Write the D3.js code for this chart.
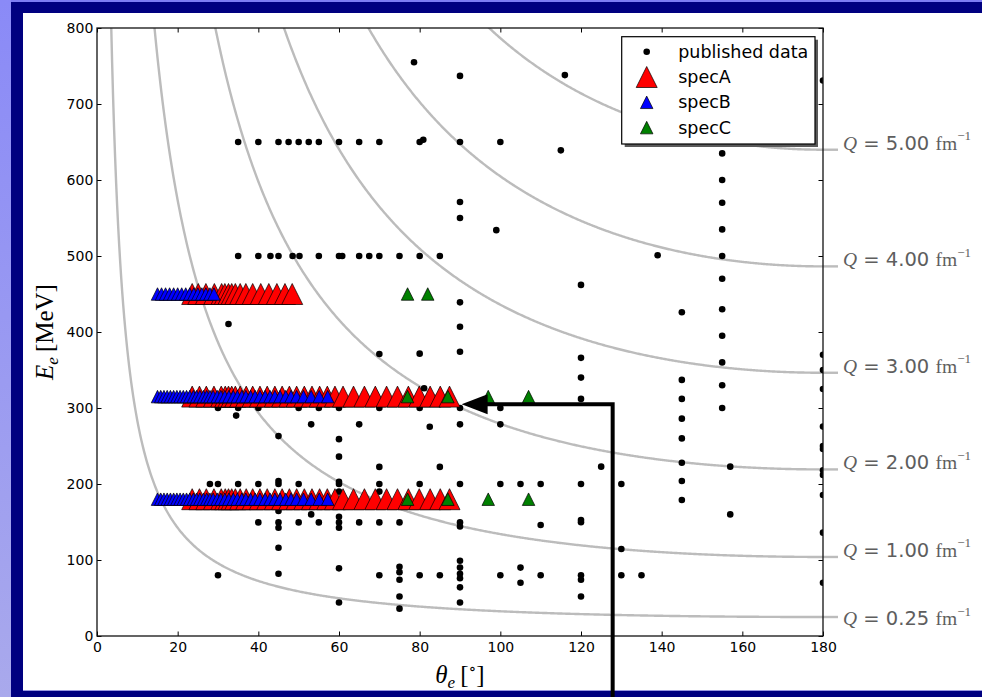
<!DOCTYPE html>
<html>
<head>
<meta charset="utf-8">
<script src="https://cdn.jsdelivr.net/npm/d3@7"></script>
<style>
  html, body { margin: 0; padding: 0; background: #ffffff; }
  svg { display: block; }
</style>
</head>
<body>
<svg id="chart" width="982" height="697"></svg>
<script>
// ---- data -------------------------------------------------------------
// world data: [theta (deg), beam energy (MeV)]
const publishedData = [
  [78.6, 755], [90, 737], [116, 738], [180, 731],
  [35, 650], [40, 650], [45, 650], [47.5, 650], [50, 650], [52.5, 650], [55, 650],
  [60, 650], [65, 650], [70, 650], [80, 650], [80.9, 653], [90, 650], [100, 650],
  [115, 639], [155, 635],
  [90, 571], [90, 550], [99, 534],
  [155, 600], [155, 570], [155, 535], [155, 500], [155, 470], [155, 430],
  [155, 395], [155, 360], [155, 330], [155, 300],
  [139, 501],
  [35, 500], [40, 500], [43, 500], [45, 500], [48.5, 500], [50.2, 500], [55, 500],
  [60, 500], [60.8, 500], [65, 500], [67.5, 500], [70, 500], [75, 500], [80, 500], [85, 500],
  [120, 462], [145, 426], [32.6, 410.5],
  [90, 439], [90, 407], [90, 374], [70, 371], [80, 371.5],
  [120, 366], [120, 340], [120, 312],
  [145, 337], [145, 312], [145, 286], [145, 260], [145, 228], [145, 204], [145, 179],
  [81.1, 326],
  [30, 300], [35, 300], [40, 300], [50, 300], [55, 300], [60, 300], [70, 300],
  [80, 300], [90, 300], [100, 300],
  [34.5, 290],
  [53.1, 278.5], [65, 278.5], [82.5, 275.4], [90, 278.5], [100, 278.5],
  [45, 263], [60, 259], [60, 236],
  [70, 222.5], [85, 222.5], [125, 222.8], [157, 222.8],
  [28, 200], [30, 200], [35, 200], [40, 200], [45, 200], [45, 204], [50, 200],
  [60, 200], [60, 203], [70, 200], [80, 200], [90, 200], [100, 200], [105, 200],
  [110, 200], [120, 200], [130, 200],
  [60, 190], [70, 190],
  [45, 164.5], [53.1, 160], [60, 157], [157, 160],
  [40, 149.5], [45, 149.5], [50, 149.5], [55, 149.5], [60, 149.5], [65, 149.5],
  [70, 149.5], [75, 149.5], [90, 149.5], [45, 142.5], [60, 142.5], [90, 144],
  [110, 146], [120, 152.7], [120, 149.6],
  [45, 116.2], [130, 114.5],
  [30, 80], [45, 82], [60, 89], [70, 80], [75, 91], [75, 84], [75, 74], [80, 80], [85, 80],
  [90, 99], [90, 90], [90, 82], [90, 76], [90, 64],
  [100, 80], [105, 90], [105, 70], [110, 80], [120, 80], [120, 74], [120, 52],
  [130, 80], [135, 80],
  [60, 44], [75, 52], [75, 36], [90, 44],
  [180, 370], [180, 350], [180, 325], [180, 275.5], [180, 250], [180, 246],
  [180, 218], [180, 212], [180, 185.6], [180, 136], [180, 70]
];

// planned kinematics: beam energies and spectrometer angles
const beamEnergies = [180, 315, 450];
const specAAngles = [23.6, 25.4, 27.1, 29.0, 30.8, 31.8, 32.6, 33.4, 34.3, 35.5, 37.0,
  38.6, 40.4, 42.2, 44.1, 45.9, 47.7, 49.5, 51.4, 53.3, 55.2, 57.1, 59.0, 61.0, 63.6,
  66.3, 69.0, 71.8, 74.5, 77.2, 79.9, 82.6, 85.1, 87.4];
const specAAngles450 = [23.6, 25.1, 27.0, 29.1, 30.9, 31.7, 32.6, 33.4, 34.3, 35.5,
  36.9, 38.6, 40.6, 42.6, 44.6, 46.6, 48.4];
const specBAngles = [15.0, 15.8, 16.6, 17.4, 18.2, 19.0, 19.8, 20.6, 21.4, 22.2, 23.0,
  23.9, 24.7, 25.5, 26.4, 27.2, 28.0, 28.8, 29.8, 30.7, 31.7, 32.7, 33.8, 34.8, 35.9,
  36.9, 38.1, 39.2, 40.4, 41.7, 42.9, 44.1, 45.4, 46.8, 48.1, 49.5, 51.2, 53.1, 55.1, 57.2];
const specBAngles450 = [15, 16, 17, 18, 19, 20, 21, 22, 23, 24, 25, 26, 27, 28, 29];
const specCAngles = [77, 87, 97, 107];
const specCAngles450 = [77, 82];

// constant momentum-transfer contours (fm^-1)
const qValues = [0.25, 1, 2, 3, 4, 5];
const qLabels = ["0.25", "1.00", "2.00", "3.00", "4.00", "5.00"];
const HBARC = 197.327;      // MeV fm
const TARGET_MASS = 1875.61; // deuteron, MeV

// axis ticks
const xTicks = [0, 20, 40, 60, 80, 100, 120, 140, 160, 180];
const yTicks = [0, 100, 200, 300, 400, 500, 600, 700, 800];

// annotation arrow, in data units (theta, E)
const arrowPath = [[127.85, -90], [127.85, 305], [90.4, 305]];

// ---- layout -----------------------------------------------------------
const W = 982, H = 697;
const plot = { left: 97, right: 823, top: 28, bottom: 636 };
const SANS = "'DejaVu Sans', sans-serif";
const SERIF = "'Liberation Serif', 'DejaVu Serif', serif";

const svg = d3.select("#chart");

// slide frame
const defs = svg.append("defs");
const grad = defs.append("linearGradient").attr("id", "edgeGrad")
  .attr("x1", 0).attr("y1", 0).attr("x2", 0).attr("y2", 1);
grad.append("stop").attr("offset", "0%").attr("stop-color", "#8a8af7");
grad.append("stop").attr("offset", "100%").attr("stop-color", "#a9a9ec");

svg.append("rect").attr("width", W).attr("height", H).attr("fill", "#ffffff");
svg.append("rect").attr("x", 0).attr("y", 0).attr("width", W).attr("height", 2).attr("fill", "#7d7df3");
svg.append("rect").attr("x", 0).attr("y", 0).attr("width", 11).attr("height", H).attr("fill", "url(#edgeGrad)");
svg.append("rect").attr("x", 11).attr("y", 2).attr("width", W - 11).attr("height", 11).attr("fill", "#000080");
svg.append("rect").attr("x", 11).attr("y", 2).attr("width", 12).attr("height", H - 2).attr("fill", "#000080");
svg.append("rect").attr("x", 11).attr("y", 691).attr("width", W - 11).attr("height", 6).attr("fill", "#000080");
svg.append("rect").attr("x", 23).attr("y", 690).attr("width", W - 23).attr("height", 1).attr("fill", "#9a9ae0");

defs.append("clipPath").attr("id", "plotClip").append("rect")
  .attr("x", plot.left).attr("y", plot.top)
  .attr("width", plot.right - plot.left).attr("height", plot.bottom - plot.top);

const x = d3.scaleLinear().domain([0, 180]).range([plot.left, plot.right]);
const y = d3.scaleLinear().domain([0, 800]).range([plot.bottom, plot.top]);

// ---- Q contours ------------------------------------------------------
function energyForQ(Q, thetaDeg) {
  // Q^2 = 4 E E' sin^2(theta/2), E' = E / (1 + 2E sin^2(theta/2) / M)
  const q = Q * HBARC;
  const s = Math.pow(Math.sin(thetaDeg * Math.PI / 360), 2);
  const a = 4 * s, b = -2 * q * q * s / TARGET_MASS, c = -q * q;
  return (-b + Math.sqrt(b * b - 4 * a * c)) / (2 * a);
}

const thetaSamples = d3.range(0.5, 180.001, 0.25);
const line = d3.line().x(d => x(d[0])).y(d => y(d[1]));
const curves = svg.append("g").attr("clip-path", "url(#plotClip)");
qValues.forEach(Q => {
  curves.append("path")
    .attr("d", line(thetaSamples.map(t => [t, Math.min(energyForQ(Q, t), 5000)])))
    .attr("fill", "none").attr("stroke", "#bcbcbc").attr("stroke-width", 2.4);
});

const labelX = 843, leaderEnd = 838;
const labelShift = { "0.25": 8 };
const qLabelG = svg.append("g");
qValues.forEach((Q, i) => {
  const yEnd = y(energyForQ(Q, 180));
  qLabelG.append("line")
    .attr("x1", x(180)).attr("x2", leaderEnd).attr("y1", yEnd).attr("y2", yEnd)
    .attr("stroke", "#bcbcbc").attr("stroke-width", 2.4);
  const t = qLabelG.append("text")
    .attr("x", labelX).attr("y", yEnd + (labelShift[qLabels[i]] || 0))
    .attr("fill", "#5e5e5e").attr("font-size", 19.5);
  t.append("tspan").attr("font-family", SERIF).attr("font-style", "italic").text("Q");
  t.append("tspan").attr("font-family", SANS).text("\u00a0=\u00a0" + qLabels[i] + "\u00a0");
  t.append("tspan").attr("font-family", SERIF).text("fm");
  t.append("tspan").attr("font-family", SERIF).attr("font-size", 13).attr("dy", -9.5).text("\u22121");
});

// ---- markers -------------------------------------------------------
const tri = s => `M0,${-s / 2}L${s / 2},${s / 2}L${-s / 2},${s / 2}Z`;
const SIZE_A = 21, SIZE_BC = 12.5, DOT_R = 3.3;

const marks = svg.append("g").attr("clip-path", "url(#plotClip)");

marks.append("g").selectAll("circle").data(publishedData).join("circle")
  .attr("cx", d => x(d[0])).attr("cy", d => y(d[1])).attr("r", DOT_R).attr("fill", "#000");

function spectrometerPoints(angles, angles450) {
  const pts = [];
  beamEnergies.forEach(E => (E === 450 ? angles450 : angles).forEach(t => pts.push([t, E])));
  return pts;
}

const series = [
  { pts: spectrometerPoints(specAAngles, specAAngles450), size: SIZE_A, color: "#ff0000" },
  { pts: spectrometerPoints(specBAngles, specBAngles450), size: SIZE_BC, color: "#0000ff" },
  { pts: spectrometerPoints(specCAngles, specCAngles450), size: SIZE_BC, color: "#008000" }
];
series.forEach(s => {
  marks.append("g").selectAll("path").data(s.pts).join("path")
    .attr("transform", d => `translate(${x(d[0])},${y(d[1])})`)
    .attr("d", tri(s.size)).attr("fill", s.color)
    .attr("stroke", "#000").attr("stroke-width", 0.7).attr("stroke-linejoin", "miter");
});

// ---- axes -----------------------------------------------------------
const TICK = 4.5;
const axisStyle = g => {
  g.select(".domain").remove();
  g.selectAll(".tick line").attr("stroke", "#000").attr("stroke-width", 1);
  g.selectAll(".tick text").attr("font-family", SANS).attr("font-size", 14).attr("fill", "#000");
};
svg.append("g").attr("transform", `translate(0,${plot.bottom})`)
  .call(d3.axisBottom(x).tickValues(xTicks).tickFormat(d3.format("d")).tickSizeInner(-TICK).tickSizeOuter(0).tickPadding(6))
  .call(axisStyle);
svg.append("g").attr("transform", `translate(0,${plot.top})`)
  .call(d3.axisTop(x).tickValues(xTicks).tickFormat("").tickSizeInner(-TICK).tickSizeOuter(0))
  .call(axisStyle);
svg.append("g").attr("transform", `translate(${plot.left},0)`)
  .call(d3.axisLeft(y).tickValues(yTicks).tickFormat(d3.format("d")).tickSizeInner(-TICK).tickSizeOuter(0).tickPadding(3.7))
  .call(axisStyle);
svg.append("g").attr("transform", `translate(${plot.right},0)`)
  .call(d3.axisRight(y).tickValues(yTicks).tickFormat("").tickSizeInner(-TICK).tickSizeOuter(0))
  .call(axisStyle);

svg.append("rect")
  .attr("x", plot.left).attr("y", plot.top)
  .attr("width", plot.right - plot.left).attr("height", plot.bottom - plot.top)
  .attr("fill", "none").attr("stroke", "#111").attr("stroke-width", 1.3);

// axis titles
const xt = svg.append("text").attr("x", (plot.left + plot.right) / 2).attr("y", 683)
  .attr("text-anchor", "middle").attr("font-family", SERIF).attr("font-size", 25).attr("fill", "#000");
xt.append("tspan").attr("font-style", "italic").text("\u03b8");
xt.append("tspan").attr("font-style", "italic").attr("font-size", 17).attr("dy", 5).text("e");
xt.append("tspan").attr("dy", -5).text("\u2009[");
xt.append("tspan").attr("font-size", 16).attr("dy", -9).text("\u2218");
xt.append("tspan").attr("dy", 9).text("]");

const yt = svg.append("text").attr("transform", `translate(53,${(plot.top + plot.bottom) / 2}) rotate(-90)`)
  .attr("text-anchor", "middle").attr("font-family", SERIF).attr("font-size", 25).attr("fill", "#000");
yt.append("tspan").attr("font-style", "italic").text("E");
yt.append("tspan").attr("font-style", "italic").attr("font-size", 17).attr("dy", 5).text("e");
yt.append("tspan").attr("dy", -5).text("\u2009[MeV]");

// ---- legend ---------------------------------------------------------
const lg = { x: 621.7, y: 36.7, w: 193.3, h: 107.3 };
const legend = svg.append("g");
legend.append("rect").attr("x", lg.x + 3).attr("y", lg.y + 3).attr("width", lg.w).attr("height", lg.h)
  .attr("fill", "#5a5a5a");
legend.append("rect").attr("x", lg.x).attr("y", lg.y).attr("width", lg.w).attr("height", lg.h)
  .attr("fill", "#fff").attr("stroke", "#000").attr("stroke-width", 1.2);
const legendItems = [
  { label: "published data", kind: "dot" },
  { label: "specA", kind: "tri", size: SIZE_A, color: "#ff0000" },
  { label: "specB", kind: "tri", size: SIZE_BC, color: "#0000ff" },
  { label: "specC", kind: "tri", size: SIZE_BC, color: "#008000" }
];
legendItems.forEach((it, i) => {
  const cy = lg.y + 15 + i * 25.3, mx = lg.x + 25;
  if (it.kind === "dot") {
    legend.append("circle").attr("cx", mx).attr("cy", cy).attr("r", DOT_R).attr("fill", "#000");
  } else {
    legend.append("path").attr("transform", `translate(${mx},${cy})`).attr("d", tri(it.size))
      .attr("fill", it.color).attr("stroke", "#000").attr("stroke-width", 0.7);
  }
  legend.append("text").attr("x", lg.x + 56.5).attr("y", cy + 6)
    .attr("font-family", SANS).attr("font-size", 17.5).attr("fill", "#000").text(it.label);
});

// ---- annotation arrow ----------------------------------------------
const tip = arrowPath[arrowPath.length - 1];
const headLen = 26, headHalf = 10;
const arrowPx = arrowPath.map(p => [x(p[0]), y(p[1])]);
arrowPx[arrowPx.length - 1] = [x(tip[0]) + headLen - 2, y(tip[1])];
svg.append("path").attr("d", d3.line()(arrowPx))
  .attr("fill", "none").attr("stroke", "#000").attr("stroke-width", 4).attr("stroke-linejoin", "miter");
svg.append("path")
  .attr("d", `M${x(tip[0])},${y(tip[1])}L${x(tip[0]) + headLen},${y(tip[1]) - headHalf}L${x(tip[0]) + headLen},${y(tip[1]) + headHalf}Z`)
  .attr("fill", "#000");
</script>
</body>
</html>
